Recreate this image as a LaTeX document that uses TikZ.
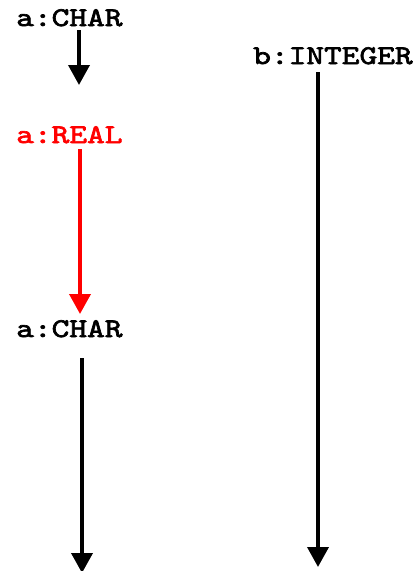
\documentclass[tikz,border=0pt]{standalone}
\usepackage{fontspec}
\newfontfamily\codefont[FakeBold=2.5,FakeStretch=1.25]{lmmono10-regular.otf}
\usetikzlibrary{arrows.meta}
\definecolor{flowred}{RGB}{255,0,0}
\tikzset{
  typelabel/.style={inner sep=0pt, anchor=base west, font=\codefont\fontsize{27}{27}\selectfont},
  flow/.style={line width=3.7pt, -{Triangle[length=20pt,width=21pt]}},
}
\begin{document}
\begin{tikzpicture}[x=1pt,y=-1pt]
  \useasboundingbox (0,0) rectangle (417,571);
  % type labels
  \node[typelabel] (c1) at (16,26) {a:CHAR};
  \node[typelabel, text=flowred] (r1) at (16,143) {a:REAL};
  \node[typelabel] (c2) at (16,337) {a:CHAR};
  \node[typelabel] (i1) at (253,64) {b:INTEGER};
  % free arrow ends
  \coordinate (e1) at (79,85);
  \coordinate (e3) at (82,573);
  \coordinate (e4) at (318,567);
  % arrows
  \draw[flow] (79,30) coordinate (s1) -- (e1);
  \draw[flow, flowred] (80,149) coordinate (s2) -- (80,314) coordinate (e2);
  \draw[flow] (82,358) coordinate (s3) -- (e3);
  \draw[flow] (318,72) coordinate (s4) -- (e4);
\end{tikzpicture}
\end{document}
